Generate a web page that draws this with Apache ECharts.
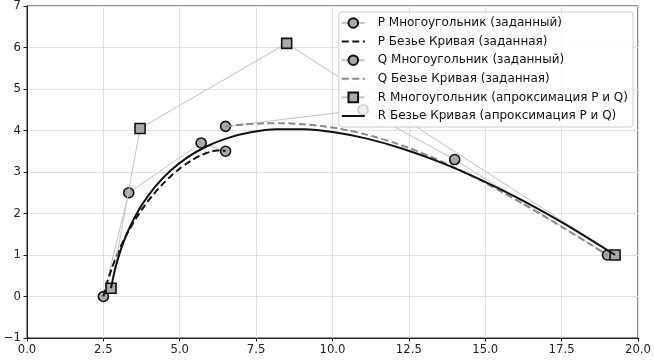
<!DOCTYPE html>
<html>
<head>
<meta charset="utf-8">
<script src="https://cdn.jsdelivr.net/npm/echarts@6/dist/echarts.min.js"></script>
<style>html,body{margin:0;padding:0;background:#fff}#c{width:654px;height:360px}</style>
</head>
<body>
<div id="c"></div>
<script>
// Series names (legend)
const seriesNames = [
  'P Многоугольник (заданный)',
  'P Безье Кривая (заданная)',
  'Q Многоугольник (заданный)',
  'Q Безье Кривая (заданная)',
  'R Многоугольник (апроксимация P и Q)',
  'R Безье Кривая (апроксимация P и Q)'
];
// Control polygons
const pPolygon = [[2.5,0],[3.33,2.5],[5.7,3.7],[6.5,3.5]];
const qPolygon = [[6.5,4.1],[11,4.5],[14,3.3],[19,1]];
const rPolygon = [[2.75,0.2],[3.7,4.05],[8.5,6.1],[19.25,1]];
// Curves
const pCurve = [[2.5,0],[2.636,0.365],[2.792,0.711],[2.967,1.037],[3.158,1.343],[3.363,1.63],[3.579,1.896],[3.804,2.143],[4.036,2.37],[4.273,2.576],[4.511,2.763],[4.75,2.929],[4.985,3.074],[5.217,3.2],[5.44,3.305],[5.654,3.389],[5.857,3.453],[6.045,3.496],[6.216,3.518],[6.369,3.52],[6.5,3.5]];
const qCurve = [[6.5,4.1],[7.164,4.148],[7.809,4.173],[8.436,4.174],[9.048,4.152],[9.648,4.108],[10.24,4.042],[10.824,3.954],[11.404,3.844],[11.983,3.714],[12.563,3.563],[13.146,3.391],[13.736,3.2],[14.335,2.989],[14.946,2.76],[15.57,2.511],[16.212,2.244],[16.873,1.959],[17.557,1.656],[18.265,1.337],[19,1]];
const rCurve = [[2.75,0.2],[2.829,0.485],[2.922,0.763],[3.03,1.034],[3.153,1.296],[3.291,1.549],[3.445,1.793],[3.614,2.027],[3.799,2.251],[4.218,2.666],[4.702,3.035],[5.252,3.352],[5.873,3.614],[6.563,3.817],[7.325,3.956],[8.161,4.029],[9.071,4.03],[10.059,3.957],[11.125,3.804],[12.27,3.568],[13.497,3.245],[14.807,2.83],[16.202,2.321],[17.682,1.712],[19.25,1]];
// Axis ticks
const xMin = 0, xMax = 20, xStep = 2.5;
const yMin = -1, yMax = 7, yStep = 1;

const FONT = 'DejaVu Sans';
const chart = echarts.init(document.getElementById('c'), null, {renderer:'canvas'});
const polyLine = {color:'#c4c4c4', width:1};
const markerStyle = {color:'#a9a9a9', borderColor:'#111', borderWidth:1.6};
const noMarker = {color:'rgba(0,0,0,0)', borderColor:'rgba(0,0,0,0)', borderWidth:0, opacity:0};
chart.setOption({
  animation:false,
  backgroundColor:'#fff',
  textStyle:{fontFamily:FONT},
  grid:{left:27, right:14, top:6, bottom:22, show:true, borderColor:'#222', borderWidth:1, backgroundColor:'transparent'},
  xAxis:{type:'value', min:xMin, max:xMax, interval:xStep,
    axisLine:{show:true, onZero:false, lineStyle:{color:'#222', width:1}},
    axisTick:{show:true, inside:false, length:3.5, lineStyle:{color:'#222'}},
    axisLabel:{color:'#222', fontSize:11.7, fontFamily:FONT, margin:6, formatter:v=>v.toFixed(1)},
    splitLine:{show:true, lineStyle:{color:'#e2e2e2', width:1}}},
  yAxis:{type:'value', min:yMin, max:yMax, interval:yStep,
    axisLine:{show:true, onZero:false, lineStyle:{color:'#222', width:1}},
    axisTick:{show:true, inside:false, length:3.5, lineStyle:{color:'#222'}},
    axisLabel:{color:'#222', fontSize:11.7, fontFamily:FONT, margin:6, formatter:v=>String(v).replace('-','\u2212')},
    splitLine:{show:true, lineStyle:{color:'#e2e2e2', width:1}}},
  legend:{orient:'vertical', right:21, top:12, z:20, itemWidth:23, itemHeight:12, itemGap:6.6,
    padding:[5,5,5,2], backgroundColor:'rgba(255,255,255,0.8)', borderColor:'#cccccc', borderWidth:1, borderRadius:3,
    textStyle:{fontSize:12, color:'#111', fontFamily:FONT, padding:[0,0,0,8]},
    data:[
      {name:seriesNames[0]},
      {name:seriesNames[1], itemStyle:noMarker},
      {name:seriesNames[2]},
      {name:seriesNames[3], itemStyle:noMarker},
      {name:seriesNames[4]},
      {name:seriesNames[5], itemStyle:noMarker}
    ]},
  series:[
    {name:seriesNames[0], type:'line', data:pPolygon, symbol:'circle', symbolSize:10, lineStyle:polyLine, itemStyle:markerStyle, z:2},
    {name:seriesNames[1], type:'line', data:pCurve, symbol:'none', smooth:0.2, lineStyle:{color:'#111', width:2, type:[7,3.5]}, itemStyle:{color:'#111'}, z:3},
    {name:seriesNames[2], type:'line', data:qPolygon, symbol:'circle', symbolSize:10, lineStyle:polyLine, itemStyle:markerStyle, z:4},
    {name:seriesNames[3], type:'line', data:qCurve, symbol:'none', smooth:0.2, lineStyle:{color:'#8a8a8a', width:2, type:[7,3.5]}, itemStyle:{color:'#8a8a8a'}, z:5},
    {name:seriesNames[4], type:'line', data:rPolygon, symbol:'rect', symbolSize:10, lineStyle:polyLine, itemStyle:markerStyle, z:6},
    {name:seriesNames[5], type:'line', data:rCurve, symbol:'none', smooth:0.2, lineStyle:{color:'#111', width:2}, itemStyle:{color:'#111'}, z:7}
  ]
});
</script>
</body>
</html>
